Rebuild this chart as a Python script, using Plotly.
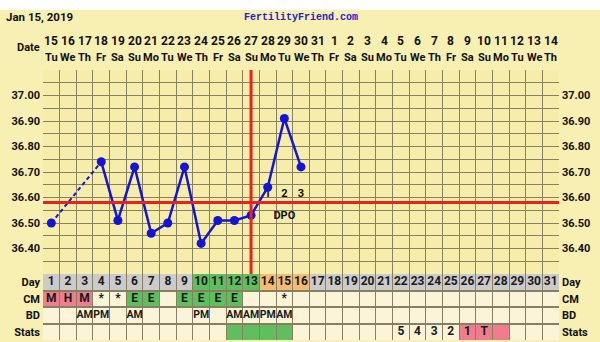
import plotly.graph_objects as go

# ---------------- data ----------------
days = list(range(1, 32))
dates = [15, 16, 17, 18, 19, 20, 21, 22, 23, 24, 25, 26, 27, 28, 29, 30, 31,
         1, 2, 3, 4, 5, 6, 7, 8, 9, 10, 11, 12, 13, 14]
weekdays = ["Tu", "We", "Th", "Fr", "Sa", "Su", "Mo"] * 4 + ["Tu", "We", "Th"]
temps = [36.50, None, None, 36.74, 36.51, 36.72, 36.46, 36.50, 36.72, 36.42,
         36.51, 36.51, 36.53, 36.64, 36.91, 36.72] + [None] * 15
coverline = 36.58
ovulation_day = 13
dpo_days = [14, 15, 16]
dpo_labels = ["1", "2", "3"]
temp_labels = [36.40, 36.50, 36.60, 36.70, 36.80, 36.90, 37.00]
temp_range = [36.30, 37.10]

row_names = ["Day", "CM", "BD", "Stats"]
day_kind = ["grey"] * 9 + ["green"] * 4 + ["orange"] * 3 + ["grey"] * 15
cm_text = ["M", "H", "M", "*", "*", "E", "E", "", "E", "E", "E", "E", "", "", "*"] + [""] * 16
cm_kind = ["pink"] * 3 + ["blank"] * 2 + ["green"] * 2 + ["blank"] + ["green"] * 4 + ["blank"] * 19
bd_text = ["", "", "AM", "PM", "", "AM", "", "", "", "PM", "", "AM", "AM", "PM", "AM"] + [""] * 16
bd_kind = ["blank"] * 31
stats_text = [""] * 21 + ["5", "4", "3", "2", "1", "T", ""] + [""] * 3
stats_kind = ["blank"] * 11 + ["green"] * 4 + ["blank"] * 10 + ["pink"] * 3 + ["blank"] * 3

# ---------------- styles ----------------
BG = "#f8efb2"
PLOT_BG = "#f7edab"
GRID = "#858160"
BLUE = "#1414d6"
RED = "#e8231e"
CELL = {"grey": "#cbcbcb", "green": "#5fbf5f", "orange": "#f6bb72",
        "pink": "#ef7d8e", "blank": "#fbf4d8"}
FONT = "Roboto"

fig = go.Figure()

# DPO labels (drawn beneath the temperature line)
fig.add_trace(go.Scatter(x=dpo_days, y=[coverline + 0.033] * len(dpo_days), mode="text",
                         text=["<b>%s</b>" % s for s in dpo_labels],
                         textfont=dict(family=FONT, size=11, color="#111"),
                         showlegend=False, hoverinfo="skip"))
fig.add_trace(go.Scatter(x=[dpo_days[1]], y=[coverline - 0.055], mode="text", text=["<b>DPO</b>"],
                         textfont=dict(family=FONT, size=11, color="#111"),
                         showlegend=False, hoverinfo="skip"))

# temperature line: solid for consecutive days, dashed across gaps
fig.add_trace(go.Scatter(x=days, y=temps, mode="lines", connectgaps=False,
                         line=dict(color=BLUE, width=2.5), hoverinfo="skip",
                         showlegend=False))
rec = [(d, t) for d, t in zip(days, temps) if t is not None]
gx, gy = [], []
for (d1, t1), (d2, t2) in zip(rec[:-1], rec[1:]):
    if d2 - d1 > 1:
        gx += [d1, d2, None]
        gy += [t1, t2, None]
fig.add_trace(go.Scatter(x=gx, y=gy, mode="lines",
                         line=dict(color=BLUE, width=2, dash="4px,3px"),
                         hoverinfo="skip", showlegend=False))
fig.add_trace(go.Scatter(x=[r[0] for r in rec], y=[r[1] for r in rec], mode="markers",
                         marker=dict(color=BLUE, size=9), showlegend=False))

# coverline + ovulation line
shapes = []
shapes.append(dict(type="line", xref="x", yref="y", x0=0.5, x1=31.5, y0=coverline, y1=coverline,
                   line=dict(color=RED, width=3), layer="above"))
shapes.append(dict(type="line", xref="x", yref="y", x0=ovulation_day, x1=ovulation_day,
                   y0=temp_range[0], y1=temp_range[1], line=dict(color=RED, width=3), layer="above"))

# bottom table cells
rows_kind = [day_kind, cm_kind, bd_kind, stats_kind]
rows_text = [[str(d) for d in days], cm_text, bd_text, stats_text]
for r, kinds in enumerate(rows_kind):
    for d, k in zip(days, kinds):
        shapes.append(dict(type="rect", xref="x", yref="y2", x0=d - 0.5, x1=d + 0.5,
                           y0=r, y1=r + 1, fillcolor=CELL[k], line=dict(width=0), layer="below"))
for r, texts in enumerate(rows_text):
    tx, ty, tt = [], [], []
    for d, s in zip(days, texts):
        if s:
            tx.append(d)
            ty.append(r + 0.5)
            tt.append("<b>%s</b>" % s)
    size = 10.5 if row_names[r] == "BD" else 12
    fig.add_trace(go.Scatter(x=tx, y=ty, mode="text", text=tt, yaxis="y2",
                             textfont=dict(family=FONT, size=size, color="#1a1a1a"),
                             showlegend=False, hoverinfo="skip"))

# top white strip
shapes.append(dict(type="rect", xref="paper", yref="paper", x0=-0.2, x1=1.2,
                   y0=1 + 60 / 270, y1=1 + 75 / 270, fillcolor="white",
                   line=dict(width=0), layer="below"))

# annotations: dates and weekdays
ann = []
for d, dt, wd in zip(days, dates, weekdays):
    ann.append(dict(x=d, y=1, xref="x", yref="paper", text="<b>%d</b>" % dt, showarrow=False,
                    yanchor="middle", yshift=29, font=dict(family=FONT, size=12, color="#111")))
    ann.append(dict(x=d, y=1, xref="x", yref="paper", text="<b>%s</b>" % wd, showarrow=False,
                    yanchor="middle", yshift=13, font=dict(family=FONT, size=11, color="#111")))
ann.append(dict(x=0, y=1, xref="paper", yref="paper", text="<b>Date</b>", showarrow=False,
                xanchor="right", yanchor="middle", yshift=23, xshift=-1,
                font=dict(family=FONT, size=11, color="#111")))
ann.append(dict(x=0, y=1, xref="paper", yref="paper", text="<b>Jan 15, 2019</b>", showarrow=False,
                xanchor="left", yanchor="middle", yshift=53, xshift=-39,
                font=dict(family=FONT, size=11.5, color="#111")))
ann.append(dict(x=0.5, y=1, xref="paper", yref="paper", text="<b>FertilityFriend.com</b>",
                showarrow=False, xanchor="center", yanchor="middle", yshift=53,
                font=dict(family="Liberation Mono", size=10, color="#2222c8")))

grid_vals = [round(temp_range[0] + 0.05 * i, 2) for i in range(17)]
tick_font = dict(family=FONT, size=11, color="#111")
lab = ["<b>%.2f</b>" % v for v in temp_labels]

fig.update_layout(
    width=600, height=342, margin=dict(l=43, r=41, t=70, b=2),
    paper_bgcolor=BG, plot_bgcolor=PLOT_BG,
    shapes=shapes, annotations=ann, showlegend=False,
    xaxis=dict(range=[0.5, 31.5], tickvals=[d - 0.5 for d in days] + [31.5],
               showticklabels=False, showgrid=True, gridcolor=GRID, gridwidth=1,
               zeroline=False, ticks="", anchor="y", fixedrange=True),
    yaxis=dict(domain=[66 / 270, 1], range=temp_range, tickvals=grid_vals,
               ticktext=["<b>%.2f</b>" % v if v in temp_labels else "" for v in grid_vals],
               showgrid=True, gridcolor=GRID, gridwidth=1, zeroline=False,
               tickfont=tick_font, ticks="", ticklabelstandoff=2),
    yaxis3=dict(overlaying="y", side="right", range=temp_range, tickvals=temp_labels,
                ticktext=lab, showgrid=False, zeroline=False, tickfont=tick_font,
                ticks="", anchor="x", ticklabelstandoff=2),
    yaxis2=dict(domain=[0, 66 / 270], range=[4, 0], tickvals=[0, 1, 2, 3, 4],
                showticklabels=False, showgrid=True, gridcolor=GRID, gridwidth=1.5,
                zeroline=False, ticks="", anchor="x"),
    yaxis4=dict(overlaying="y2", side="left", range=[4, 0], tickvals=[0.5, 1.5, 2.5, 3.5],
                ticktext=["<b>%s</b>" % n for n in row_names], showgrid=False, zeroline=False,
                tickfont=tick_font, ticks="", anchor="x", ticklabelstandoff=2),
    yaxis5=dict(overlaying="y2", side="right", range=[4, 0], tickvals=[0.5, 1.5, 2.5, 3.5],
                ticktext=["<b>%s</b>" % n for n in row_names], showgrid=False, zeroline=False,
                tickfont=tick_font, ticks="", anchor="x", ticklabelstandoff=2),
)

# invisible traces to activate overlay axes
fig.add_trace(go.Scatter(x=[None], y=[None], yaxis="y3", showlegend=False))
fig.add_trace(go.Scatter(x=[None], y=[None], yaxis="y4", showlegend=False))
fig.add_trace(go.Scatter(x=[None], y=[None], yaxis="y5", showlegend=False))

fig.write_html("out.html")
